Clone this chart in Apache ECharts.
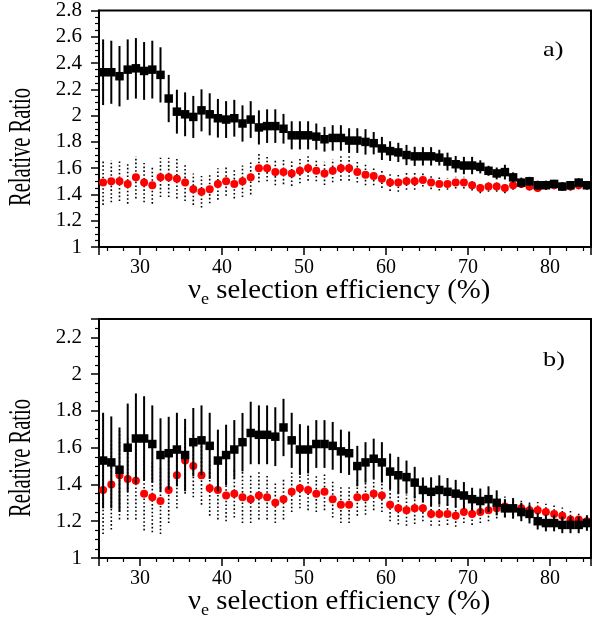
<!DOCTYPE html>
<html>
<head>
<meta charset="utf-8">
<script src="https://cdn.jsdelivr.net/npm/echarts@6/dist/echarts.min.js"></script>
<style>
html,body{margin:0;padding:0;background:#fff;}
#chart{width:592px;height:623px;}
</style>
</head>
<body>
<div id="chart"></div>
<script>
// x positions (selection efficiency, %)
const effX = [25.5,26.5,27.5,28.5,29.5,30.5,31.5,32.5,33.5,34.5,35.5,36.5,37.5,38.5,39.5,40.5,41.5,42.5,43.5,44.5,
  45.5,46.5,47.5,48.5,49.5,50.5,51.5,52.5,53.5,54.5,55.5,56.5,57.5,58.5,59.5,60.5,61.5,62.5,63.5,64.5,
  65.5,66.5,67.5,68.5,69.5,70.5,71.5,72.5,73.5,74.5,75.5,76.5,77.5,78.5,79.5,80.5,81.5,82.5,83.5,84.5];

// panel a) black squares
const aBlack = [2.33,2.33,2.30,2.35,2.36,2.34,2.35,2.31,2.13,2.03,2.01,1.99,2.04,2.01,1.98,1.97,1.98,1.94,1.97,1.91,
  1.92,1.92,1.90,1.85,1.85,1.85,1.84,1.82,1.83,1.83,1.81,1.81,1.80,1.79,1.75,1.73,1.72,1.70,1.69,
  1.69,1.69,1.68,1.65,1.63,1.62,1.62,1.61,1.58,1.56,1.57,1.53,1.49,1.50,1.47,1.47,1.48,1.46,1.47,1.49,1.47];
const aBlackErr = [0.25,0.24,0.23,0.23,0.23,0.22,0.22,0.21,0.18,0.167,0.167,0.16,0.16,0.16,0.147,0.14,0.14,0.138,0.14,0.13,
  0.128,0.128,0.113,0.107,0.107,0.107,0.10,0.094,0.097,0.097,0.094,0.094,0.097,0.085,0.088,0.075,0.073,0.077,0.073,
  0.07,0.07,0.06,0.068,0.063,0.066,0.066,0.05,0.038,0.045,0.056,0.038,0.038,0.034,0.035,0.035,0.031,0.03,0.031,0.033,0.033];
// panel a) red circles
const aRed = [1.49,1.50,1.50,1.48,1.53,1.49,1.47,1.53,1.53,1.52,1.49,1.44,1.42,1.44,1.48,1.50,1.48,1.50,1.53,1.60,
  1.60,1.57,1.57,1.56,1.58,1.60,1.58,1.56,1.58,1.60,1.60,1.57,1.55,1.54,1.52,1.49,1.49,1.50,1.50,
  1.51,1.49,1.48,1.48,1.49,1.49,1.47,1.45,1.46,1.46,1.45,1.47,1.48,1.46,1.45,1.47,1.47,1.46,1.46,1.47,1.47];
const aRedErr = [0.17,0.16,0.15,0.15,0.16,0.15,0.14,0.15,0.15,0.15,0.14,0.12,0.12,0.107,0.12,0.11,0.11,0.12,0.13,
  0.107,0.10,0.10,0.092,0.095,0.095,0.095,0.08,0.088,0.088,0.095,0.095,0.08,0.08,0.07,0.07,0.063,0.07,0.065,0.065,
  0.05,0.05,0.05,0.045,0.045,0.045,0.04,0.04,0.04,0.04,0.04,0.035,0.03,0.03,0.03,0.03,0.03,0.03,0.03,0.03,0.03];

// panel b) black squares
const bBlack = [1.53,1.52,1.48,1.60,1.65,1.65,1.62,1.56,1.57,1.59,1.56,1.63,1.64,1.61,1.53,1.56,1.59,1.63,1.68,1.67,
  1.67,1.66,1.71,1.64,1.59,1.59,1.62,1.62,1.61,1.58,1.57,1.50,1.52,1.54,1.52,1.47,1.45,1.44,1.41,
  1.37,1.36,1.37,1.36,1.35,1.34,1.32,1.31,1.32,1.30,1.27,1.27,1.25,1.24,1.20,1.19,1.19,1.18,1.18,1.18,1.19];
const bBlackErr = [0.26,0.25,0.23,0.24,0.245,0.23,0.21,0.20,0.198,0.20,0.197,0.186,0.19,0.18,0.168,0.165,0.16,0.159,0.17,0.16,
  0.16,0.16,0.156,0.15,0.138,0.13,0.13,0.13,0.13,0.118,0.118,0.11,0.11,0.109,0.11,0.098,0.10,0.09,0.086,
  0.068,0.079,0.08,0.075,0.075,0.073,0.062,0.068,0.07,0.068,0.05,0.055,0.05,0.052,0.045,0.045,0.045,0.045,0.045,0.045,0.042];
// panel b) red circles
const bRed = [1.37,1.40,1.45,1.43,1.42,1.35,1.33,1.31,1.37,1.45,1.53,1.50,1.45,1.38,1.37,1.34,1.35,1.33,1.32,1.34,
  1.33,1.30,1.32,1.36,1.38,1.37,1.35,1.36,1.32,1.29,1.29,1.33,1.33,1.35,1.34,1.29,1.27,1.26,1.27,
  1.27,1.24,1.24,1.24,1.23,1.25,1.24,1.25,1.26,1.27,1.28,1.27,1.27,1.26,1.26,1.25,1.24,1.23,1.21,1.21,1.20];
const bRedErr = [0.24,0.245,0.24,0.22,0.21,0.20,0.19,0.18,0.18,0.18,0.18,0.17,0.16,0.15,0.16,0.14,0.13,0.14,0.13,0.13,
  0.12,0.11,0.11,0.11,0.11,0.11,0.10,0.10,0.10,0.10,0.10,0.10,0.095,0.09,0.09,0.09,0.088,0.085,0.085,
  0.07,0.065,0.065,0.06,0.06,0.06,0.06,0.06,0.06,0.055,0.055,0.055,0.05,0.05,0.045,0.045,0.045,0.045,0.045,0.04,0.04];

const yTicksA = [1, 2.8, 0.2];
const yTicksB = [1, 2.3, 0.2];
const xRange = [25, 85];
const panelLabels = ['a)', 'b)'];
const yTitle = 'Relative Ratio';

const FONT = 'Liberation Serif';

function pts(ys, es) { return effX.map((x, i) => [x, ys[i], es[i]]); }

function errRender(width, dash) {
  return function (params, api) {
    const x = api.value(0), y = api.value(1), e = api.value(2);
    const p1 = api.coord([x, y - e]);
    const p2 = api.coord([x, y + e]);
    return {
      type: 'line',
      shape: { x1: p1[0], y1: p1[1], x2: p2[0], y2: p2[1] },
      style: { stroke: '#000', lineWidth: width, lineDash: dash }
    };
  };
}

function xAxisDef(gi) {
  return {
    type: 'value', gridIndex: gi, min: xRange[0], max: xRange[1], splitNumber: 6,
    axisLine: { show: true, onZero: false, lineStyle: { color: '#000', width: 2 } },
    axisTick: { show: true, inside: false, length: 8, lineStyle: { color: '#000', width: 1.5 } },
    minorTick: { show: true, splitNumber: 5, length: 4, lineStyle: { color: '#000', width: 1.2 } },
    axisLabel: { show: true, showMinLabel: false, showMaxLabel: false, margin: 11, fontFamily: FONT, fontSize: 20, color: '#000' },
    splitLine: { show: false }
  };
}

function yAxisDef(gi, t) {
  return {
    type: 'value', gridIndex: gi, min: t[0], max: t[1], interval: t[2],
    axisLine: { show: true, onZero: false, lineStyle: { color: '#000', width: 2 } },
    axisTick: { show: true, inside: false, length: 8, lineStyle: { color: '#000', width: 1.5 } },
    minorTick: { show: true, splitNumber: 4, length: 4, lineStyle: { color: '#000', width: 1.2 } },
    axisLabel: { show: true, showMaxLabel: gi === 0, margin: 17, fontFamily: FONT, fontSize: 21, color: '#000' },
    splitLine: { show: false }
  };
}

function panelSeries(gi, blk, blkE, red, redE) {
  return [
    { type: 'custom', xAxisIndex: gi, yAxisIndex: gi, renderItem: errRender(1.6, [1.6, 2.2]),
      data: pts(red, redE), encode: { x: 0, y: 1 }, z: 2, silent: true },
    { type: 'scatter', xAxisIndex: gi, yAxisIndex: gi, symbol: 'circle', symbolSize: 8,
      itemStyle: { color: '#ff0000', opacity: 1 }, data: pts(red, redE), z: 3, silent: true },
    { type: 'custom', xAxisIndex: gi, yAxisIndex: gi, renderItem: errRender(2, null),
      data: pts(blk, blkE), encode: { x: 0, y: 1 }, z: 4, silent: true },
    { type: 'scatter', xAxisIndex: gi, yAxisIndex: gi, symbol: 'rect', symbolSize: 8.5,
      itemStyle: { color: '#000', opacity: 1 }, data: pts(blk, blkE), z: 5, silent: true }
  ];
}

function xTitle(y) {
  return {
    type: 'text', x: 188, y: y, scaleX: 1.065, z: 10,
    style: {
      text: '{nu|ν}{sub|e}{t| selection efficiency (%)}',
      align: 'left', verticalAlign: 'middle',
      rich: {
        nu: { fontFamily: FONT, fontSize: 27, fill: '#000', lineHeight: 34, verticalAlign: 'middle' },
        sub: { fontFamily: FONT, fontSize: 17, fill: '#000', lineHeight: 17, verticalAlign: 'bottom' },
        t: { fontFamily: FONT, fontSize: 27, fill: '#000', lineHeight: 34, verticalAlign: 'middle' }
      }
    }
  };
}

function yTitleEl(y) {
  return {
    type: 'text', x: 22, y: y, rotation: Math.PI / 2, scaleY: 1.5, z: 10,
    style: { text: yTitle, align: 'center', verticalAlign: 'middle', fontFamily: FONT, fontSize: 20.5, fill: '#000' }
  };
}

function panelLabel(txt, y) {
  return {
    type: 'text', x: 543, y: y, scaleX: 1.25, z: 10,
    style: { text: txt, align: 'left', verticalAlign: 'middle', fontFamily: FONT, fontSize: 21, fill: '#000' }
  };
}

const chart = echarts.init(document.getElementById('chart'), null, { renderer: 'canvas' });
chart.setOption({
  animation: false,
  backgroundColor: '#fff',
  grid: [
    { left: 99, top: 8, width: 492, height: 239, show: true, borderColor: '#000', borderWidth: 2, backgroundColor: 'transparent' },
    { left: 99, top: 319, width: 492, height: 239, show: true, borderColor: '#000', borderWidth: 2, backgroundColor: 'transparent' }
  ],
  xAxis: [xAxisDef(0), xAxisDef(1)],
  yAxis: [yAxisDef(0, yTicksA), yAxisDef(1, yTicksB)],
  graphic: [
    xTitle(291), xTitle(602),
    yTitleEl(147), yTitleEl(458),
    panelLabel(panelLabels[0], 50), panelLabel(panelLabels[1], 360)
  ],
  series: [].concat(
    panelSeries(0, aBlack, aBlackErr, aRed, aRedErr),
    panelSeries(1, bBlack, bBlackErr, bRed, bRedErr)
  )
});
</script>
</body>
</html>
